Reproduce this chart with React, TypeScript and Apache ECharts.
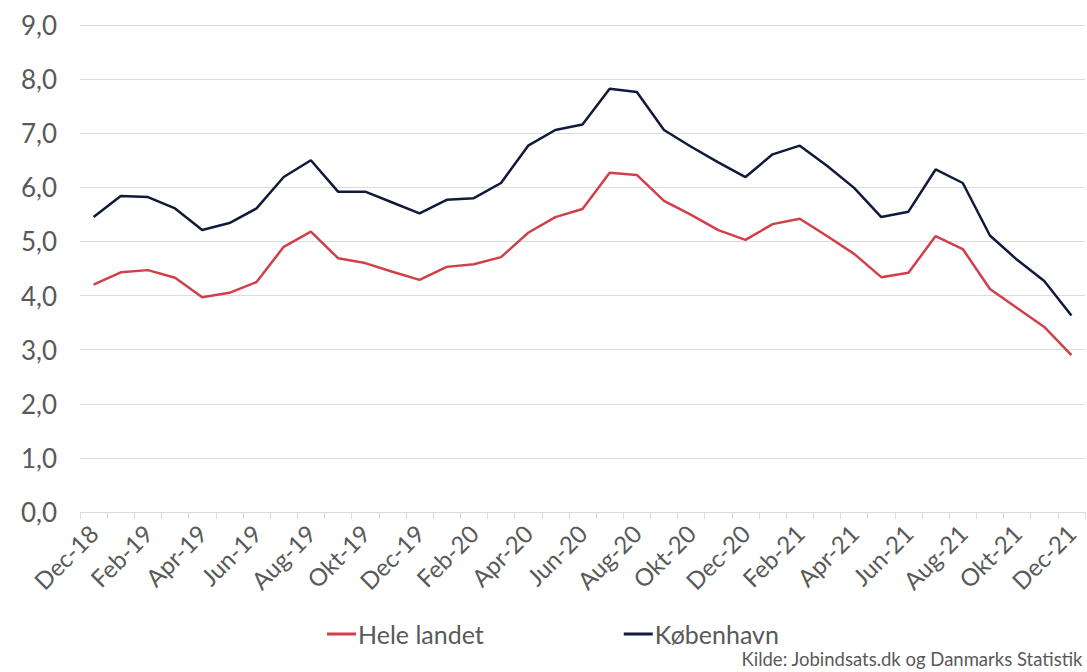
import React, { useEffect, useRef } from "react";
import * as echarts from "echarts";

const months = ["Jan", "Feb", "Mar", "Apr", "Maj", "Jun", "Jul", "Aug", "Sep", "Okt", "Nov", "Dec"];
const categories: string[] = ["Dec-18"];
for (const y of ["19", "20", "21"]) for (const m of months) categories.push(`${m}-${y}`);

const heleLandet = [
  4.2, 4.43, 4.47, 4.33, 3.97, 4.05, 4.25, 4.9, 5.18, 4.69, 4.6, 4.44, 4.29,
  4.53, 4.58, 4.71, 5.16, 5.45, 5.6, 6.27, 6.23, 5.75, 5.49, 5.21, 5.03,
  5.32, 5.42, 5.1, 4.77, 4.34, 4.42, 5.1, 4.86, 4.12, 3.77, 3.42, 2.9,
];
const kobenhavn = [
  5.45, 5.84, 5.82, 5.61, 5.21, 5.34, 5.61, 6.19, 6.5, 5.92, 5.92, 5.72, 5.52,
  5.77, 5.8, 6.08, 6.77, 7.06, 7.16, 7.82, 7.76, 7.06, 6.75, 6.46, 6.19,
  6.61, 6.77, 6.4, 5.99, 5.45, 5.55, 6.33, 6.08, 5.11, 4.66, 4.27, 3.63,
];

const FONT = "Lato";
const GREY = "#595959";

export default function App() {
  const ref = useRef<HTMLDivElement>(null);
  useEffect(() => {
    if (!ref.current) return;
    const chart = echarts.init(ref.current, null, { renderer: "svg" });
    chart.setOption({
      animation: false,
      backgroundColor: "#ffffff",
      textStyle: { fontFamily: FONT },
      grid: { left: 80, right: 2, top: 25, bottom: 160, containLabel: false },
      legend: {
        left: 322,
        top: 615,
        itemGap: 140,
        itemWidth: 29,
        itemHeight: 3,
        icon: "rect",
        textStyle: { fontFamily: FONT, fontSize: 25, lineHeight: 28, color: GREY, padding: [0, 0, 0, -3] },
        data: ["Hele landet", "København"],
      },
      xAxis: {
        type: "category",
        data: categories,
        boundaryGap: true,
        axisLine: { lineStyle: { color: "#d9d9d9", width: 1 } },
        axisTick: { show: true, interval: 0, length: 7, lineStyle: { color: "#d9d9d9" } },
        axisLabel: {
          interval: 1,
          rotate: 45,
          fontFamily: FONT,
          fontSize: 24,
          color: GREY,
          margin: 17,
        },
      },
      yAxis: {
        type: "value",
        min: 0,
        max: 9,
        interval: 1,
        axisLine: { show: false },
        axisTick: { show: false },
        splitLine: { lineStyle: { color: "#dcdcdc", width: 1 } },
        axisLabel: {
          fontFamily: FONT,
          fontSize: 26,
          color: GREY,
          margin: 23,
          formatter: (v: number) => v.toFixed(1).replace(".", ","),
        },
      },
      series: [
        {
          name: "Hele landet",
          type: "line",
          data: heleLandet,
          symbol: "none",
          lineStyle: { color: "#d0404a", width: 2.5 },
          itemStyle: { color: "#d0404a" },
        },
        {
          name: "København",
          type: "line",
          data: kobenhavn,
          symbol: "none",
          lineStyle: { color: "#101a3a", width: 2.5 },
          itemStyle: { color: "#101a3a" },
        },
      ],
      graphic: [
        {
          type: "text",
          right: 4,
          bottom: 3,
          style: {
            text: "Kilde: Jobindsats.dk og Danmarks Statistik",
            fontFamily: FONT,
            fontSize: 18.5,
            lineHeight: 20,
            fill: GREY,
          },
        },
      ],
    });
    return () => chart.dispose();
  }, []);
  return (
    <div
      ref={ref}
      style={{ position: "fixed", left: 0, top: 0, width: 1087, height: 672, background: "#fff" }}
    />
  );
}
